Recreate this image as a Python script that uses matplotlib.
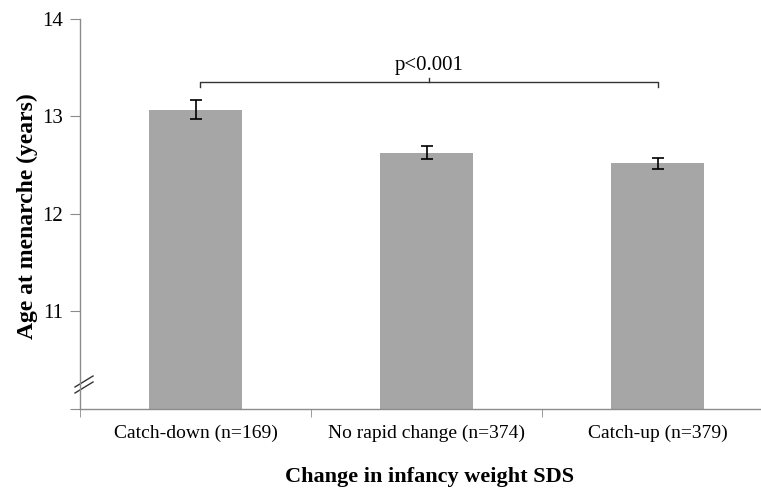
import numpy as np
from matplotlib import pyplot as plt

plt.rcParams['font.family'] = ['Liberation Serif', 'DejaVu Serif']

categories = ["Catch-down (n=169)", "No rapid change (n=374)", "Catch-up (n=379)"]
ages = [13.07, 12.63, 12.52]
errors = [0.095, 0.065, 0.058]
p_text = "p<0.001"

fig = plt.figure(figsize=(7.61, 4.98), dpi=100)
ax = fig.add_axes([80 / 761, 89 / 498, 681 / 761, 390 / 498])

x = np.arange(1, len(categories) + 1)
ax.bar(x, [a - 10 for a in ages], bottom=10, width=0.4, color="#a6a6a6", zorder=2)
ax.errorbar(x, ages, yerr=errors, fmt="none", ecolor="black", elinewidth=1.2,
            capsize=4, capthick=1.2, zorder=3)

ax.set_xlim(0.5, 0.5 + 681 / 231)
ax.set_ylim(10, 14)

ax.spines['top'].set_visible(False)
ax.spines['right'].set_visible(False)
for s in ['left', 'bottom']:
    ax.spines[s].set_color("#8c8c8c")
    ax.spines[s].set_linewidth(1.0)

ax.set_yticks([10, 11, 12, 13, 14])
ax.set_yticklabels(["", "11", "12", "13", "14"])
ax.tick_params(axis='y', length=7, color="#8c8c8c", labelsize=15, pad=5)

ax.set_xticks(x)
ax.set_xticklabels(categories)
ax.tick_params(axis='x', which='major', length=0, labelsize=14, pad=11)
ax.set_xticks([0.5, 1.5, 2.5], minor=True)
ax.tick_params(axis='x', which='minor', length=6, color="#8c8c8c")

ax.set_ylabel("Age at menarche (years)", fontsize=17, fontweight='bold')
ax.yaxis.set_label_coords(-42 / 681, 0.495)
ax.set_xlabel("Change in infancy weight SDS", fontsize=16, fontweight='bold')
ax.xaxis.set_label_coords(350 / 681, -58 / 390)

# significance bracket
yb = 13.355
ax.plot([1.02, 1.02, 3.0, 3.0], [yb - 0.05, yb, yb, yb - 0.05], color="#333333", lw=1.0)
ax.plot([2.01, 2.01], [yb, yb + 0.04], color="#333333", lw=1.0)
ax.text(2.01, yb + 0.07, p_text, ha='center', va='bottom', fontsize=15)

# axis break marks
for dy in (0, 6):
    ax.plot([-5 / 681, 13 / 681], [(22 - dy) / 390, (33 - dy) / 390],
            transform=ax.transAxes, color="#333333", lw=1.0, clip_on=False)

fig.savefig("out.png", dpi=100)
